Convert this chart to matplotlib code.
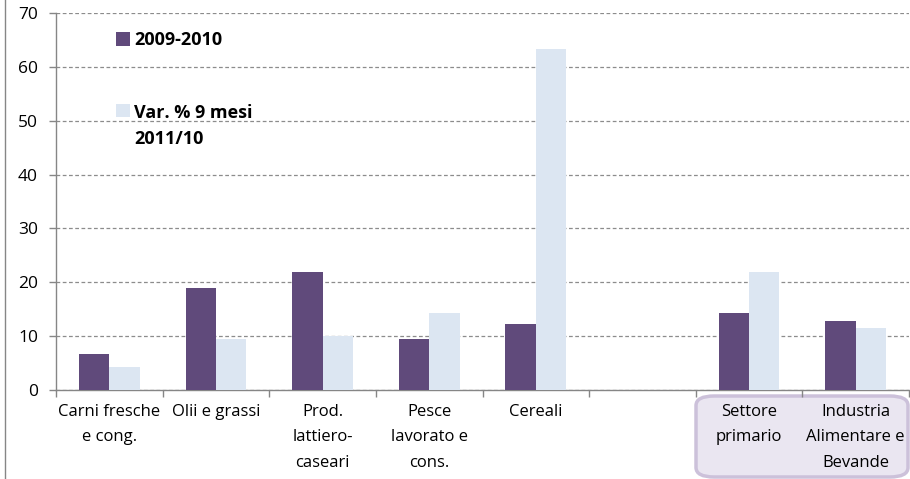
import numpy as np
import matplotlib
matplotlib.use("Agg")
import matplotlib.pyplot as plt
from matplotlib.patches import FancyBboxPatch, Rectangle
from matplotlib.lines import Line2D

categories = ["Carni fresche\ne cong.", "Olii e grassi", "Prod.\nlattiero-\ncaseari",
              "Pesce\nlavorato e\ncons.", "Cereali", "", "Settore\nprimario",
              "Industria\nAlimentare e\nBevande"]
series_2009_2010 = [6.6, 19.0, 21.8, 9.4, 12.3, np.nan, 14.2, 12.8]
series_var_9m = [4.3, 9.5, 10.0, 14.3, 63.4, np.nan, 21.9, 11.5]
legend_labels = ["2009-2010", "Var. % 9 mesi\n2011/10"]
yticks = [0, 10, 20, 30, 40, 50, 60, 70]

plt.rcParams['font.family'] = ['Open Sans', 'DejaVu Sans']

W, H = 910, 479
fig = plt.figure(figsize=(W / 100, H / 100), dpi=100)
ax = fig.add_axes([56 / W, 1 - 389.7 / H, (909 - 56) / W, (389.7 - 13.3) / H])
ax.set_zorder(2)
ax.patch.set_alpha(0)

c1 = '#604A7B'
c2 = '#DCE6F2'
x = np.arange(len(categories))
bw = 0.285
ax.bar(x - bw / 2, series_2009_2010, bw, color=c1, zorder=3)
ax.bar(x + bw / 2, series_var_9m, bw, color=c2, zorder=3)

ax.set_xlim(-0.5, len(categories) - 0.5)
ax.set_ylim(0, 70)
ax.set_yticks(yticks)
ax.set_yticklabels([str(v) for v in yticks], fontsize=12.5)
ax.yaxis.grid(True, linestyle=(0, (3, 2)), color='#8c8c8c', linewidth=0.9)
ax.set_axisbelow(True)

ax.set_xticks(x)
ax.set_xticklabels(categories, fontsize=12, linespacing=1.8, va='top')
ax.tick_params(axis='x', which='major', length=0, pad=10)
ax.set_xticks(np.arange(-0.5, len(categories)), minor=True)
ax.tick_params(axis='x', which='minor', length=5, color='#868686', width=1)
ax.tick_params(axis='y', length=5, color='#868686', width=1, pad=8)

for s in ['top', 'right']:
    ax.spines[s].set_visible(False)
for s in ['left', 'bottom']:
    ax.spines[s].set_color('#868686')
    ax.spines[s].set_linewidth(1)

# legend (manual)
for i, (lab, col) in enumerate(zip(legend_labels, [c1, c2])):
    ypos = [0.9317, 0.742][i]
    ytxt = [0.952, 0.758][i]
    ax.add_patch(Rectangle((0.0703, ypos - 0.0178), 0.0164, 0.0356, transform=ax.transAxes,
                           facecolor=col, edgecolor='none', clip_on=False, zorder=5))
    ax.text(0.0915, ytxt, lab, transform=ax.transAxes, fontsize=13,
            fontweight='bold', va='top', ha='left', linespacing=1.55, zorder=5)

# rounded highlight box
box = FancyBboxPatch((696 / W, 1 - 477 / H), (908 - 696) / W, (477 - 396) / H,
                     boxstyle="round,pad=0,rounding_size=0.02",
                     transform=fig.transFigure, facecolor='#EAE6F1',
                     edgecolor='#CCC1DA', linewidth=2.5, zorder=0)
fig.patches.append(box)

# chart area left border
fig.add_artist(Line2D([4.5 / W, 4.5 / W], [0, 1], transform=fig.transFigure,
                      color='#868686', linewidth=1))

fig.savefig('out.png', dpi=100)
